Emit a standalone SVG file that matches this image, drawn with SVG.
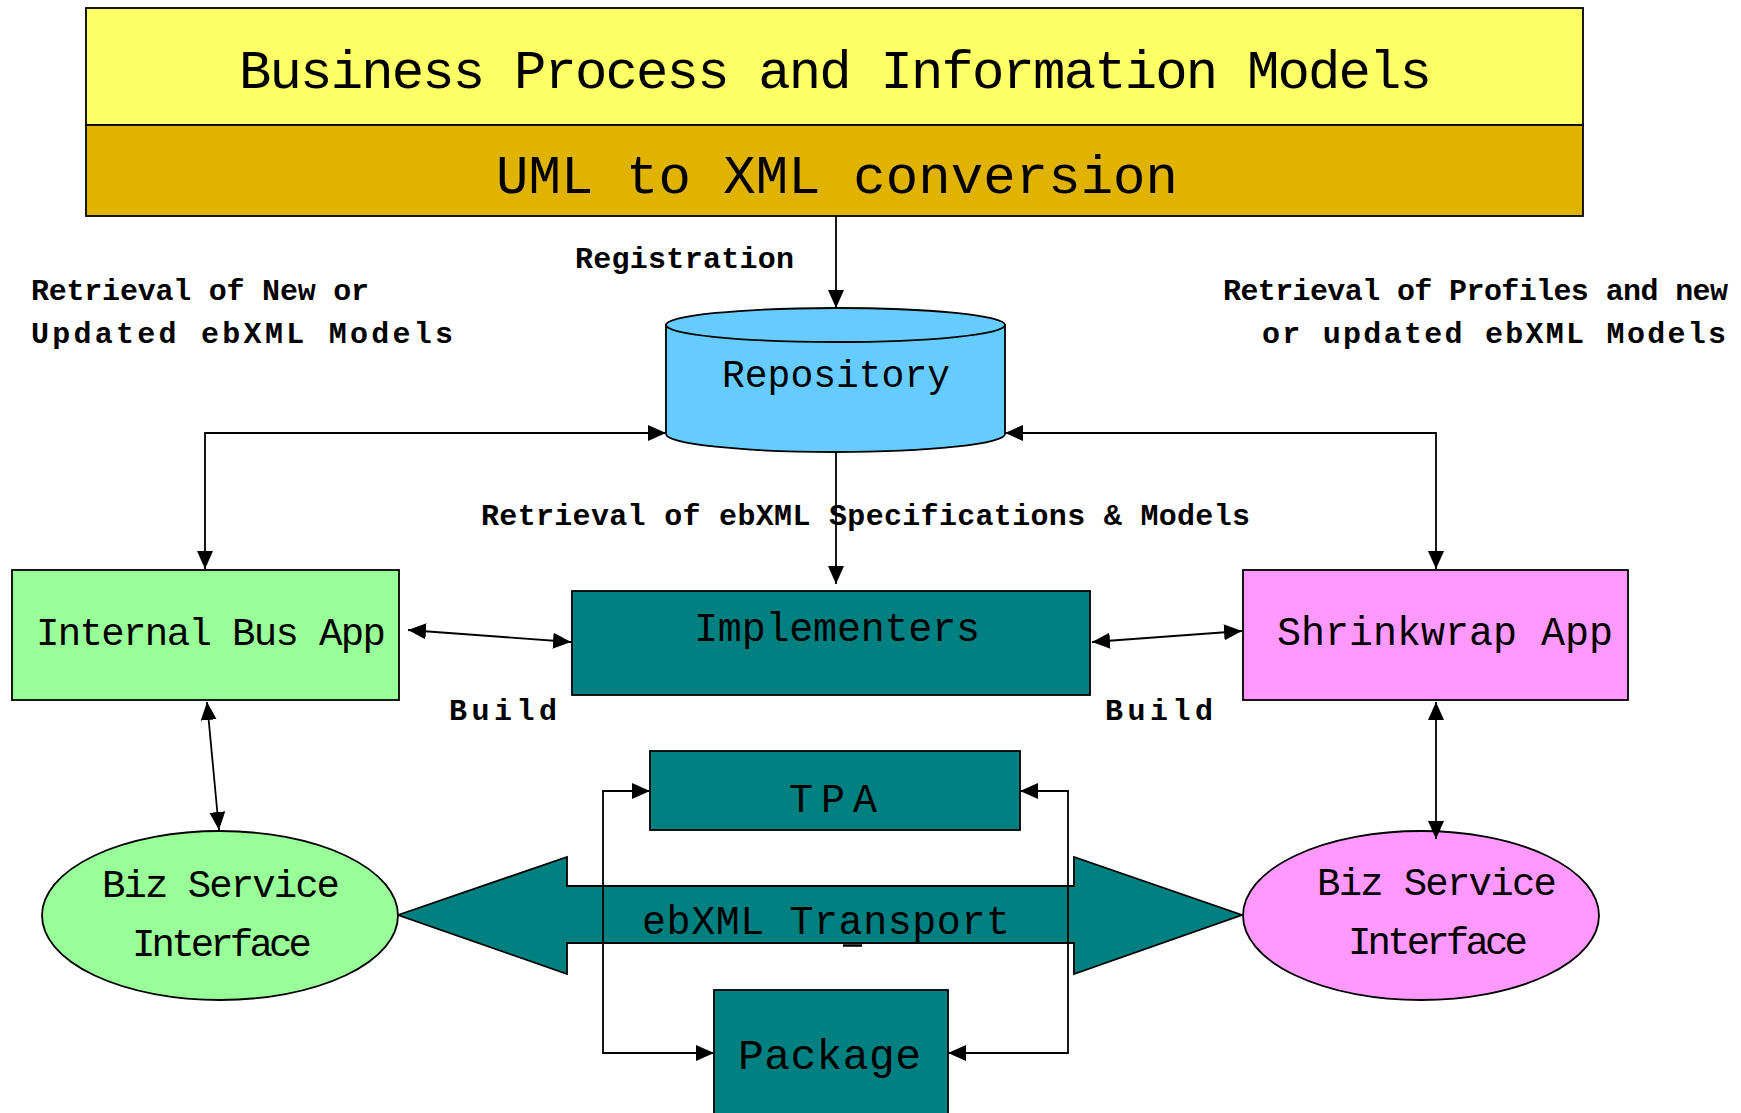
<svg xmlns="http://www.w3.org/2000/svg" width="1741" height="1113" viewBox="0 0 1741 1113">
<style>
.box{stroke:#000;stroke-width:1.8}
.t{font-family:"Liberation Mono","Courier New",monospace;fill:#000}
.lbl{font-family:"Liberation Mono","Courier New",monospace;font-weight:bold;font-size:30px;fill:#000}
.c{fill:none;stroke:#000;stroke-width:1.8}
</style>
<defs>
<marker id="ah" viewBox="0 0 18 16" refX="18" refY="8" markerWidth="18" markerHeight="16" orient="auto-start-reverse" markerUnits="userSpaceOnUse">
<path d="M0,0 L18,8 L0,16 Z" fill="#000"/>
</marker>
</defs>
<rect width="1741" height="1113" fill="#fff"/>

<g id="models">
<rect class="box" x="86" y="8" width="1497" height="117" fill="#FFFF66"/>
<text class="t" x="239" y="88" font-size="54" textLength="1193">Business Process and Information Models</text>
</g>
<g id="uml">
<rect class="box" x="86" y="125" width="1497" height="91" fill="#DFB300"/>
<text class="t" x="496" y="193" font-size="54" textLength="682">UML to XML conversion</text>
</g>

<g id="repository">
<path class="box" d="M666,325 V434 A169.5,18 0 0 0 1005,434 V325 Z" fill="#66CCFF"/>
<ellipse class="box" cx="835.5" cy="325" rx="169.5" ry="17" fill="#66CCFF"/>
<text class="t" x="722" y="387" font-size="38" textLength="228">Repository</text>
</g>

<g id="labels">
<text class="lbl" x="575" y="268" textLength="219">Registration</text>
<text class="lbl" x="31" y="300" textLength="338">Retrieval of New or</text>
<text class="lbl" x="31" y="343" textLength="422">Updated ebXML Models</text>
<text class="lbl" x="1223" y="300" textLength="505">Retrieval of Profiles and new</text>
<text class="lbl" x="1262" y="343" textLength="464">or updated ebXML Models</text>
<text class="lbl" x="481" y="525" textLength="769">Retrieval of ebXML Specifications &amp; Models</text>
<text class="lbl" x="449" y="720" font-size="36" textLength="108">Build</text>
<text class="lbl" x="1105" y="720" font-size="36" textLength="108">Build</text>
</g>

<g id="internal-bus-app">
<rect class="box" x="12" y="570" width="387" height="130" fill="#99FF99"/>
<text class="t" x="36" y="645" font-size="39" textLength="350">Internal Bus App</text>
</g>

<g id="implementers">
<rect class="box" x="572" y="591" width="518" height="104" fill="#008080"/>
<text class="t" x="694" y="641" font-size="40" textLength="286">Implementers</text>
</g>

<g id="shrinkwrap-app">
<rect class="box" x="1243" y="570" width="385" height="130" fill="#FF99FF"/>
<text class="t" x="1277" y="645" font-size="40" textLength="336">Shrinkwrap App</text>
</g>

<g id="tpa">
<rect class="box" x="650" y="751" width="370" height="79" fill="#008080"/>
<text class="t" x="789" y="812" font-size="40" textLength="88">TPA</text>
</g>

<g id="transport">
<polygon class="box" points="398,915 567,857 567,886 1074,886 1074,857 1242,915 1074,974 1074,943 567,943 567,974" fill="#008080"/>
<line x1="843" y1="945.5" x2="862" y2="945.5" stroke="#000" stroke-width="2.5"/>
<text class="t" x="642" y="934" font-size="40" textLength="368">ebXML Transport</text>
</g>

<g id="package">
<rect class="box" x="714" y="990" width="234" height="130" fill="#008080"/>
<text class="t" x="738" y="1069" font-size="43" textLength="183">Package</text>
</g>

<g id="biz-left">
<ellipse class="box" cx="220" cy="915.5" rx="178" ry="84.5" fill="#99FF99"/>
<text class="t" x="102" y="897" font-size="39" textLength="238">Biz Service</text>
<text class="t" x="132" y="956" font-size="39" textLength="180">Interface</text>
</g>

<g id="biz-right">
<ellipse class="box" cx="1421" cy="915.5" rx="178" ry="84.5" fill="#FF99FF"/>
<text class="t" x="1317" y="895" font-size="39" textLength="240">Biz Service</text>
<text class="t" x="1348" y="954" font-size="39" textLength="180">Interface</text>
</g>

<g id="connectors">
<path class="c" d="M836,216 V308" marker-end="url(#ah)"/>
<path class="c" d="M205,569 V433 H666" marker-start="url(#ah)" marker-end="url(#ah)"/>
<path class="c" d="M1436,569 V433 H1005" marker-start="url(#ah)" marker-end="url(#ah)"/>
<path class="c" d="M836,452 V584" marker-end="url(#ah)"/>
<path class="c" d="M408,630 L571,642" marker-start="url(#ah)" marker-end="url(#ah)"/>
<path class="c" d="M1092,642 L1242,631" marker-start="url(#ah)" marker-end="url(#ah)"/>
<path class="c" d="M207,702 L219,830" marker-start="url(#ah)" marker-end="url(#ah)"/>
<path class="c" d="M1436,702 V839" marker-start="url(#ah)" marker-end="url(#ah)"/>
<path class="c" d="M650,791 H603 V1053 H714" marker-start="url(#ah)" marker-end="url(#ah)"/>
<path class="c" d="M1020,791 H1068 V1053 H948" marker-start="url(#ah)" marker-end="url(#ah)"/>
</g>
</svg>
